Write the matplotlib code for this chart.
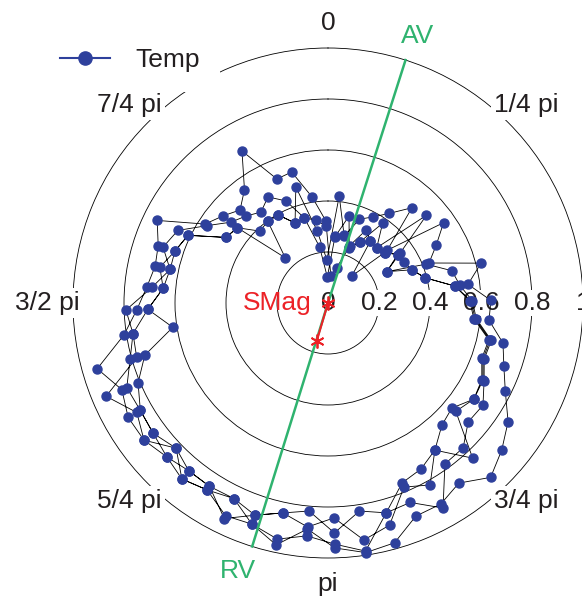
import numpy as np
import matplotlib
matplotlib.use("Agg")
import matplotlib.pyplot as plt
from matplotlib.lines import Line2D

plt.rcParams['font.family'] = ['Liberation Sans', 'DejaVu Sans']

# ---------------- data ----------------
week_angle_deg = [6.0, 13.6, 20.6, 27.6, 34.4, 41.4, 48.3, 55.2, 61.9, 68.4,
                  75.4, 82.4, 89.1, 96.1, 102.9, 109.8, 116.5, 123.4, 130.3, 137.0,
                  144.0, 150.7, 157.6, 164.5, 171.4, 178.4, 185.2, 192.1, 199.0, 205.7,
                  212.9, 219.7, 226.3, 233.3, 240.2, 247.2, 254.1, 261.1, 268.0, 275.1,
                  282.0, 288.7, 295.8, 302.7, 309.7, 316.6, 323.6, 330.5, 337.6, 344.5,
                  351.5, 358.5]

r_year1 = [0.265, 0.275, 0.240, 0.323, 0.293, 0.289, 0.297, 0.333, 0.339, 0.354,
           0.393, 0.502, 0.561, 0.580, 0.652, 0.646, 0.679, 0.685, 0.657, 0.832,
           0.713, 0.818, 0.781, 0.904, 0.940, 0.843, 0.882, 0.842, 0.880, 0.938,
           0.856, 0.855, 0.824, 0.855, 0.848, 0.856, 0.807, 0.774, 0.707, 0.649,
           0.674, 0.634, 0.610, 0.476, 0.462, 0.244, 0.398, 0.397, 0.339, 0.472,
           0.286, 0.169]
r_year2 = [0.422, 0.270, 0.351, 0.381, 0.426, 0.498, 0.311, 0.552, 0.481, 0.426,
           0.620, 0.554, 0.639, 0.635, 0.704, 0.733, 0.777, 0.846, 0.893, 0.935,
           0.873, 0.904, 0.904, 0.976, 0.990, 0.961, 0.890, 0.970, 0.917, 0.851,
           0.873, 0.897, 0.874, 0.900, 0.903, 0.877, 0.941, 0.810, 0.750, 0.713,
           0.693, 0.703, 0.744, 0.573, 0.535, 0.502, 0.552, 0.685, 0.526, 0.533,
           0.420, 0.322]
r_year3 = [0.107, 0.142, 0.230, 0.270, 0.293, 0.141, 0.297, 0.333, 0.261, 0.354,
           0.393, 0.502, 0.556, 0.575, 0.647, 0.641, 0.674, 0.685, 0.637, 0.655,
           0.713, 0.746, 0.763, 0.854, 0.825, 0.902, 0.819, 0.842, 0.880, 0.851,
           0.856, 0.855, 0.874, 0.855, 0.848, 0.808, 0.747, 0.616, 0.707, 0.649,
           0.633, 0.634, 0.610, 0.476, 0.462, 0.388, 0.398, 0.397, 0.339, 0.346,
           0.222, 0.102]
r_year4 = [0.261, 0.351, 0.236, 0.270, 0.379, 0.289, 0.517, 0.346, 0.261, 0.414,
           0.502, 0.522, 0.566, 0.585, 0.657, 0.651, 0.684, 0.728, 0.721, 0.777,
           0.780, 0.922, 0.846, 0.854, 0.984, 0.946, 0.917, 0.947, 0.917, 0.926,
           0.873, 0.897, 0.824, 0.900, 0.864, 0.944, 0.780, 0.774, 0.793, 0.693,
           0.633, 0.683, 0.654, 0.562, 0.496, 0.469, 0.443, 0.478, 0.433, 0.346,
           0.329, 0.302]

series_label = 'Temp'
r_ticks = [0, 0.2, 0.4, 0.6, 0.8, 1.0]
r_tick_labels = ['0', '0.2', '0.4', '0.6', '0.8', '1']
theta_tick_deg = [0, 45, 135, 180, 225, 270, 315]
theta_tick_labels = ['0', '1/4 pi', '3/4 pi', 'pi', '5/4 pi', '3/2 pi', '7/4 pi']

av_angle_deg = 17.7
rv_angle_deg = 197.3
smag_angle_deg = 196.5
smag_value = 0.155

# ---------------- styles ----------------
BLUE = '#2e409c'
GREEN = '#2fb36f'
RED = '#ec2227'
TXT = '#231f20'
FS = 19

fig = plt.figure(figsize=(5.82, 5.96), dpi=100)
ax = fig.add_axes([73 / 582, 38 / 596, 510 / 582, 510 / 596], projection='polar')
ax.set_theta_zero_location('N')
ax.set_theta_direction(-1)
ax.set_ylim(0, 1)
ax.set_xticks([])
ax.set_yticks([0.2, 0.4, 0.6, 0.8])
ax.set_yticklabels([])
ax.yaxis.grid(True, color='black', lw=0.6, ls='-')
ax.spines['polar'].set_color('black')
ax.spines['polar'].set_linewidth(0.6)
ax.set_facecolor('white')

# radial tick labels (white background hides the rings)
for v, s in zip(r_ticks, r_tick_labels):
    ax.text(np.deg2rad(90), v, s, ha='center', va='center', fontsize=FS, color=TXT,
            zorder=3, clip_on=False,
            bbox=dict(facecolor='white', edgecolor='none', pad=1.0))

# angular labels
for d, s in zip(theta_tick_deg, theta_tick_labels):
    ax.text(np.deg2rad(d), 1.1, s, ha='center', va='center', fontsize=FS, color=TXT,
            zorder=3, clip_on=False,
            bbox=dict(facecolor='white', edgecolor='none', pad=2.0))

# data series
theta_all = np.deg2rad(np.concatenate([week_angle_deg] * 4))
r_all = np.concatenate([r_year1, r_year2, r_year3, r_year4])
ax.plot(theta_all, r_all, '-', color='black', lw=0.6, zorder=4, clip_on=False)
ax.plot(theta_all, r_all, 'o', ls='none', color=BLUE, ms=6.5, mec=BLUE, zorder=5,
        clip_on=False)

# AV / RV axis
for a in (av_angle_deg, rv_angle_deg):
    ax.plot([np.deg2rad(a), np.deg2rad(a)], [0, 1], color=GREEN, lw=1.8, zorder=6,
            clip_on=False)
ax.text(np.deg2rad(18.5), 1.105, 'AV', color=GREEN, ha='center', va='center',
        fontsize=FS, zorder=7, clip_on=False)
ax.text(np.deg2rad(198.5), 1.11, 'RV', color=GREEN, ha='center', va='center',
        fontsize=FS, zorder=7, clip_on=False)

# SMag vector
ax.plot([np.deg2rad(smag_angle_deg)] * 2, [0, smag_value], color=RED, lw=1.5,
        marker=(6, 2, 0), ms=10, mew=1.3, mec=RED, zorder=8, clip_on=False)
ax.text(np.deg2rad(270), 0.063, 'SMag', color=RED, ha='right', va='center',
        fontsize=FS, zorder=8)

# legend
h = Line2D([], [], color=BLUE, lw=1.5, marker='o', ms=9.5, mec=BLUE)
leg = ax.legend([h], [series_label], loc='center',
                bbox_to_anchor=(130 / 582, 1 - 60 / 596),
                bbox_transform=fig.transFigure, fontsize=FS, frameon=True,
                fancybox=False, borderpad=0.75, handlelength=1.9,
                handletextpad=0.95, borderaxespad=0)
leg.get_frame().set_facecolor('white')
leg.get_frame().set_edgecolor('none')
leg.get_frame().set_alpha(1)
for t in leg.get_texts():
    t.set_color(TXT)
leg.set_zorder(10)

fig.savefig('out.png', dpi=100)
